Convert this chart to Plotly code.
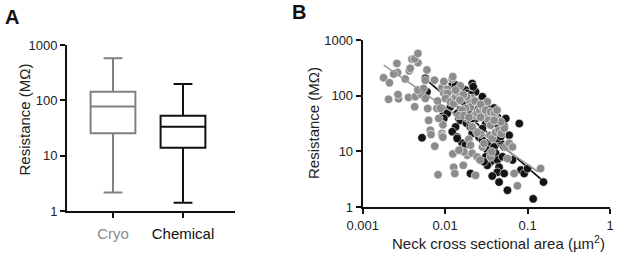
import plotly.graph_objects as go

# ---------------- Panel A: box summary (MΩ) ----------------
box_groups = ["Cryo", "Chemical"]
box_lower = [2.17, 1.41]
box_q1 = [25.3, 13.9]
box_median = [77, 33.3]
box_q3 = [143, 52.7]
box_upper = [574, 197]
box_colors = ["#808080", "#111111"]

# ---------------- Panel B: scatter (area µm², resistance MΩ) ----------------
cryo_area = [0.00179, 0.00211, 0.00260, 0.00265, 0.00237, 0.00206, 0.00272, 0.00268, 0.00328, 0.00367,
             0.00378, 0.00396, 0.00468, 0.00427, 0.00468, 0.00360, 0.00427, 0.00434, 0.00514, 0.00468,
             0.00548, 0.00575, 0.00602, 0.00575, 0.00615, 0.00631, 0.00662, 0.00675, 0.00749, 0.00820,
             0.00915, 0.00915, 0.00940, 0.00940, 0.00836, 0.00795, 0.00810, 0.00875, 0.00742, 0.00915,
             0.00965, 0.0106, 0.0110, 0.0122, 0.0124, 0.00965, 0.0106, 0.0101, 0.0116, 0.0127,
             0.0134, 0.0140, 0.0153, 0.0134, 0.0124, 0.0127, 0.0131, 0.0166, 0.0186, 0.0169,
             0.0147, 0.0194, 0.0203, 0.0213, 0.0234, 0.0245, 0.0264, 0.0283, 0.0296, 0.0269,
             0.0245, 0.0213, 0.0223, 0.0245, 0.0264, 0.0283, 0.0296, 0.0325, 0.0335, 0.0357,
             0.0350, 0.0373, 0.0410, 0.0451, 0.0482, 0.0520, 0.0544, 0.0598, 0.0657, 0.0570,
             0.0357, 0.0368, 0.0269, 0.0325, 0.0213, 0.0194, 0.0203, 0.0177, 0.0161, 0.0147,
             0.0169, 0.0194, 0.0182, 0.0166, 0.0151, 0.0230, 0.0269, 0.0311, 0.0357, 0.0399,
             0.0434, 0.0474, 0.0426, 0.0393, 0.0753, 0.0687, 0.144]
cryo_res = [210, 170, 380, 260, 245, 86, 88, 105, 200, 280,
            310, 450, 390, 460, 575, 93, 63, 96, 105, 126,
            135, 190, 290, 89, 59, 36, 24, 20, 12.4, 3.8,
            21, 19, 30, 18, 39, 59, 80, 59, 190, 140,
            180, 130, 87, 200, 220, 110, 110, 89, 77, 72,
            96, 117, 150, 126, 9.0, 5.2, 4.0, 5.6, 8.5, 9.8,
            10.5, 16.5, 12.9, 9.2, 3.7, 7.9, 7.0, 12, 13.8, 20.5,
            22, 27.5, 44, 48, 55, 63, 70, 44, 36, 29.5,
            19.5, 17, 22, 24, 21, 26, 12, 14, 12, 7.4,
            7.9, 9.8, 41, 78, 89, 83, 63, 59, 55, 44,
            44, 41, 96, 103, 83, 80, 70, 55, 51, 49,
            36, 34, 55, 36, 2.4, 4.0, 4.9]

chem_area = [0.00524, 0.00575, 0.00602, 0.00915, 0.00940, 0.0106, 0.0116, 0.0122, 0.0134, 0.0147,
             0.0161, 0.0177, 0.0186, 0.0213, 0.0234, 0.0219, 0.0169, 0.0153, 0.0140, 0.0147,
             0.0153, 0.0134, 0.0122, 0.0140, 0.0161, 0.0177, 0.0153, 0.0140, 0.0182, 0.0203,
             0.0203, 0.0213, 0.0234, 0.0245, 0.0264, 0.0283, 0.0296, 0.0311, 0.0283, 0.0245,
             0.0258, 0.0283, 0.0296, 0.0325, 0.0325, 0.0311, 0.0357, 0.0357, 0.0325, 0.0393,
             0.0410, 0.0430, 0.0451, 0.0474, 0.0474, 0.0520, 0.0496, 0.0520, 0.0544, 0.0439,
             0.0430, 0.0451, 0.0520, 0.0570, 0.0598, 0.0610, 0.0657, 0.0794, 0.0830, 0.0910,
             0.100, 0.117, 0.156, 0.0296, 0.0203, 0.0373, 0.0474, 0.0213, 0.0194, 0.0258,
             0.0325, 0.0393, 0.0340, 0.0357, 0.0410, 0.0430, 0.0134, 0.0116, 0.0106, 0.00965,
             0.0203, 0.0283]
chem_res = [17.5, 205, 117, 58, 44, 117, 126, 155, 155, 103,
            135, 126, 110, 165, 117, 145, 77, 55, 48, 39,
            36, 27.5, 22.5, 18, 14, 13, 10.5, 17, 32, 36,
            27.5, 21, 39, 55, 78, 48, 41, 31.5, 25.5, 22,
            18, 16, 12, 14, 10.5, 8, 9.2, 6.5, 5.6, 12,
            9.2, 7, 5.2, 25.5, 14, 12, 8, 28, 39, 17,
            4.2, 2.8, 4.0, 2.0, 19.5, 13, 7, 31.5, 4.6, 4.0,
            4.9, 1.4, 2.8, 6.5, 4.0, 3.6, 18.5, 39, 55, 60,
            60, 60, 44, 31.5, 31.5, 41, 77, 63, 48, 39,
            103, 96]

# Regression line end points (area, resistance)
cryo_fit_area = [0.0018, 0.134]
cryo_fit_res = [355, 4.3]
chem_fit_area = [0.006, 0.15]
chem_fit_res = [190, 3.05]

GRAY = "#8c8c8c"
BLACK = "#141414"
FONT = "Arial, Liberation Sans, Helvetica, sans-serif"

fig = go.Figure()

# Panel A boxes
for i, g in enumerate(box_groups):
    fig.add_trace(go.Box(
        x=[i], q1=[box_q1[i]], median=[box_median[i]], q3=[box_q3[i]],
        lowerfence=[box_lower[i]], upperfence=[box_upper[i]],
        width=0.64, whiskerwidth=0.42,
        fillcolor="white", line=dict(color=box_colors[i], width=2),
        boxpoints=False, showlegend=False, hoverinfo="skip",
        xaxis="x", yaxis="y"))

# Panel B
fig.add_trace(go.Scatter(x=chem_fit_area, y=chem_fit_res, mode="lines",
                         line=dict(color="#000000", width=1.6),
                         showlegend=False, xaxis="x2", yaxis="y2"))
fig.add_trace(go.Scatter(x=chem_area, y=chem_res, mode="markers",
                         marker=dict(color=BLACK, size=8.5, line=dict(color="white", width=0.6)),
                         showlegend=False, xaxis="x2", yaxis="y2"))
fig.add_trace(go.Scatter(x=cryo_area, y=cryo_res, mode="markers",
                         marker=dict(color=GRAY, size=8.5, line=dict(color="white", width=0.6)),
                         showlegend=False, xaxis="x2", yaxis="y2"))
fig.add_trace(go.Scatter(x=cryo_fit_area, y=cryo_fit_res, mode="lines",
                         line=dict(color="#999999", width=1.6),
                         showlegend=False, xaxis="x2", yaxis="y2"))

W, H = 617, 255
def px_x(p): return p / W
def px_y(p): return (H - p) / H

axis_common = dict(showgrid=False, zeroline=False, showline=True, linecolor="#111111",
                   linewidth=2, ticks="outside", ticklen=5, tickwidth=1.5, tickcolor="#111111",
                   automargin=False,
                   tickfont=dict(family=FONT, size=13, color="#222222"))

cat_text = ['<span style="color:#8c8c8c">Cryo</span>', '<span style="color:#111111">Chemical</span>']

fig.update_layout(
    template="none",
    width=W, height=H, autosize=False,
    margin=dict(l=0, r=0, t=0, b=0, pad=0),
    paper_bgcolor="white", plot_bgcolor="white",
    font=dict(family=FONT, color="#222222"),
    xaxis=dict(axis_common, domain=[px_x(67), px_x(235)], range=[-0.657, 1.743],
               tickmode="array", tickvals=[0, 1], ticktext=cat_text,
               tickfont=dict(family=FONT, size=15), ticklabelstandoff=3),
    yaxis=dict(axis_common, type="log", domain=[px_y(211), px_y(45)], range=[0, 3],
               tickmode="array", tickvals=[1, 10, 100, 1000], ticktext=["1", "10", "100", "1000"],
               anchor="x"),
    xaxis2=dict(axis_common, type="log", domain=[px_x(362.7), px_x(610)], range=[-3, 0],
                tickmode="array", tickvals=[0.001, 0.01, 0.1, 1], ticktext=["0.001", "0.01", "0.1", "1"],
                anchor="y2"),
    yaxis2=dict(axis_common, type="log", domain=[px_y(207), px_y(40)], range=[0, 3],
                tickmode="array", tickvals=[1, 10, 100, 1000], ticktext=["1", "10", "100", "1000"],
                anchor="x2"),
    annotations=[
        dict(text="<b>A</b>", x=px_x(3), y=px_y(17), xref="paper", yref="paper",
             xanchor="left", yanchor="middle", showarrow=False, font=dict(family=FONT, size=20, color="#111")),
        dict(text="<b>B</b>", x=px_x(290), y=px_y(12), xref="paper", yref="paper",
             xanchor="left", yanchor="middle", showarrow=False, font=dict(family=FONT, size=20, color="#111")),
        dict(text="Resistance (MΩ)", x=px_x(23.5), y=px_y(120), xref="paper", yref="paper",
             xanchor="center", yanchor="middle", textangle=-90, showarrow=False,
             font=dict(family=FONT, size=15, color="#222")),
        dict(text="Resistance (MΩ)", x=px_x(314), y=px_y(123), xref="paper", yref="paper",
             xanchor="center", yanchor="middle", textangle=-90, showarrow=False,
             font=dict(family=FONT, size=15, color="#222")),
        dict(text="Neck cross sectional area (µm<sup>2</sup>)", x=px_x(498), y=px_y(242), xref="paper", yref="paper",
             xanchor="center", yanchor="middle", showarrow=False,
             font=dict(family=FONT, size=15, color="#222")),
    ],
)

fig.write_html("out.html", config={"displayModeBar": False},
               post_script="document.body.style.margin='0';document.body.style.overflow='hidden';")
